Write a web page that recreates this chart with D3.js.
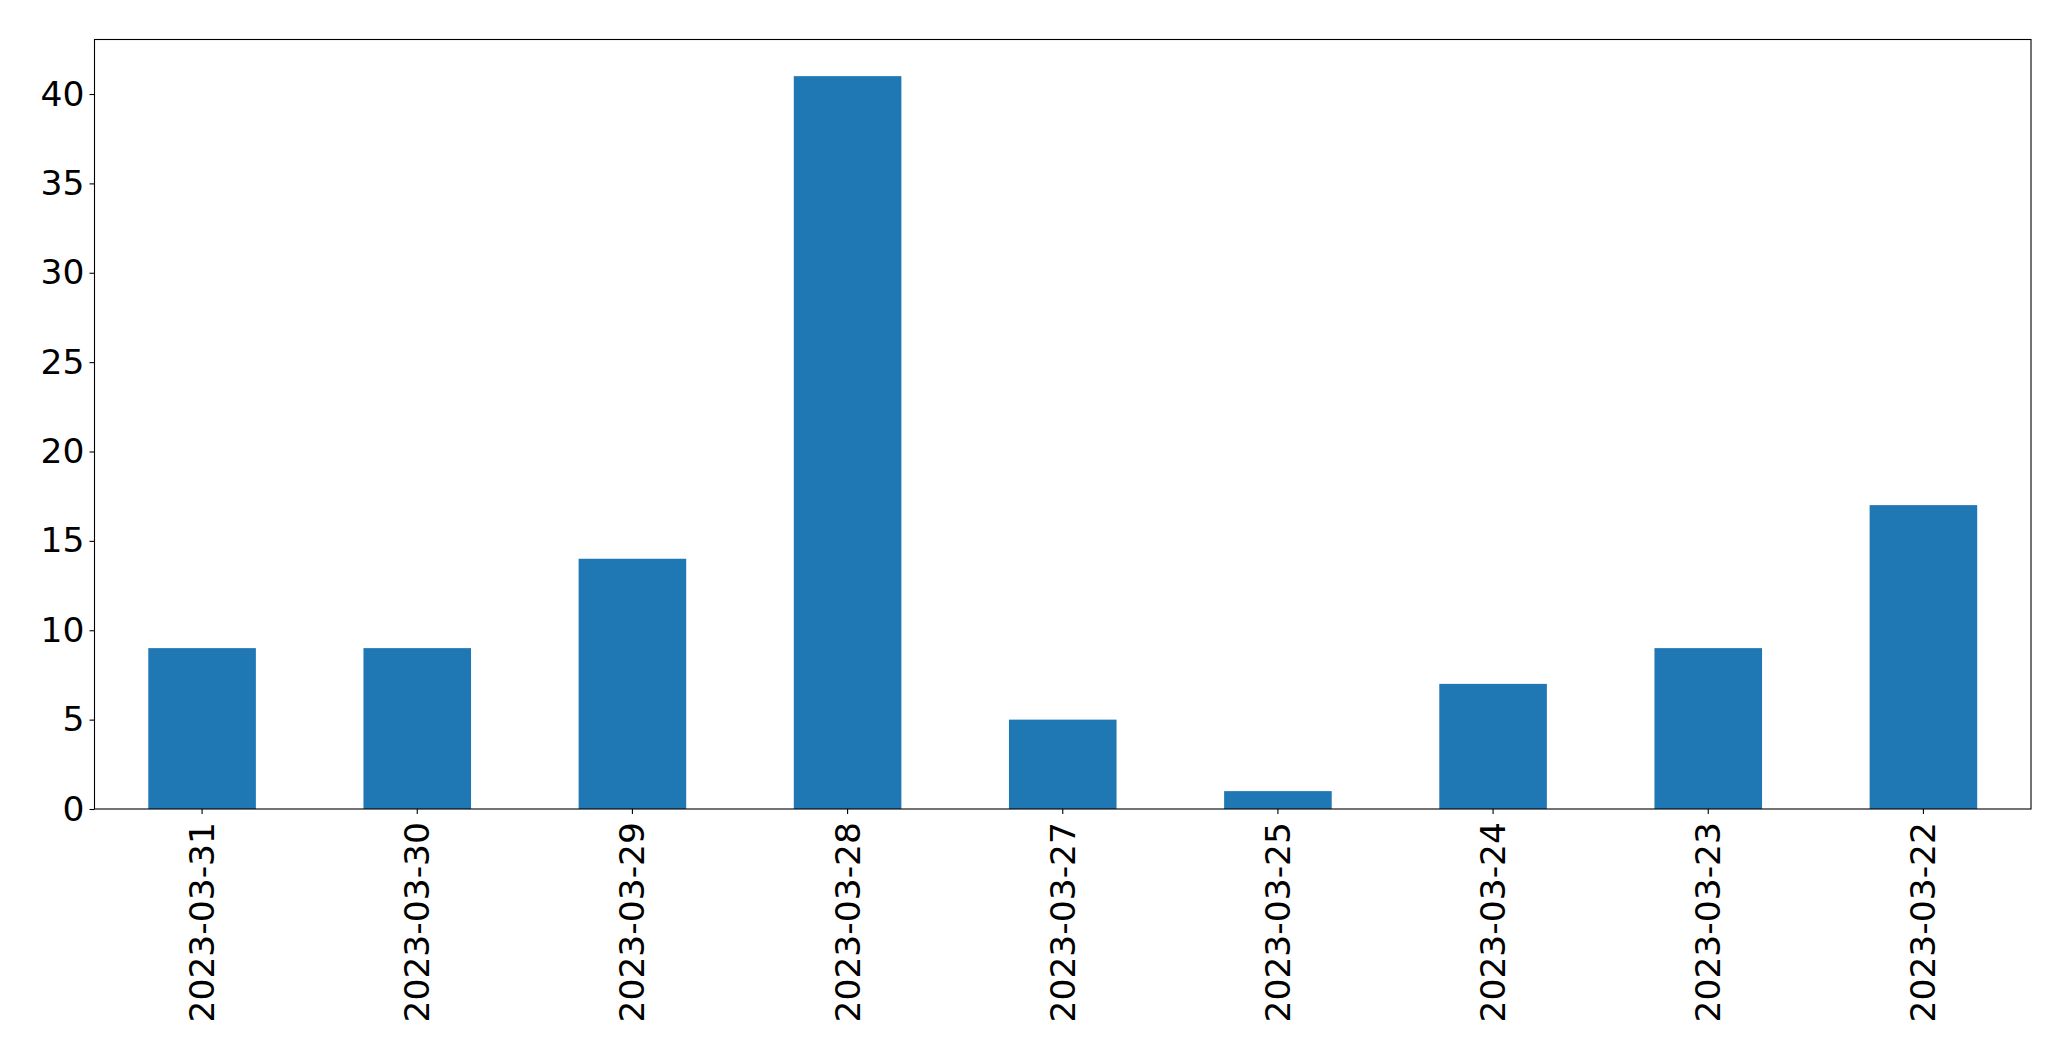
<!DOCTYPE html>
<html>
<head>
<meta charset="utf-8">
<script src="https://cdn.jsdelivr.net/npm/d3@7"></script>
<style>
  body { margin: 0; background: #fff; }
  text { font-family: "DejaVu Sans", sans-serif; }
</style>
</head>
<body>
<div id="chart"></div>
<script>
// data
var dates = ["2023-03-31", "2023-03-30", "2023-03-29", "2023-03-28", "2023-03-27",
             "2023-03-25", "2023-03-24", "2023-03-23", "2023-03-22"];
var counts = [9, 9, 14, 41, 5, 1, 7, 9, 17];
var yTicks = [0, 5, 10, 15, 20, 25, 30, 35, 40];

var chart_width = 2071;
var chart_height = 1061;
var margin = {left: 94.5, right: 40, top: 39.5, bottom: 252};

var svg = d3.select("#chart").append("svg")
  .attr("width", chart_width)
  .attr("height", chart_height);

var x = d3.scaleBand()
  .domain(dates)
  .range([margin.left, chart_width - margin.right])
  .paddingInner(0.5)
  .paddingOuter(0.25);

var y = d3.scaleLinear()
  .domain([0, d3.max(counts) * 1.05])
  .range([chart_height - margin.bottom, margin.top]);

// bars
svg.selectAll("rect.bar").data(counts).enter().append("rect")
  .attr("class", "bar")
  .attr("x", function(d, i) { return x(dates[i]); })
  .attr("y", function(d) { return y(d); })
  .attr("width", x.bandwidth())
  .attr("height", function(d) { return y(0) - y(d); })
  .attr("fill", "#1f77b4");

// y axis
var yAxis = svg.append("g")
  .attr("transform", "translate(" + margin.left + ",0)")
  .call(d3.axisLeft(y).tickValues(yTicks).tickSize(5).tickPadding(5).tickFormat(d3.format("d")));
yAxis.select(".domain").remove();
yAxis.selectAll("line").attr("stroke", "#000").attr("stroke-width", 1.1);
yAxis.selectAll("text").attr("font-size", 34.5).attr("fill", "#000")
  .attr("font-family", "DejaVu Sans");

// x axis
var xAxis = svg.append("g")
  .attr("transform", "translate(0," + (chart_height - margin.bottom) + ")")
  .call(d3.axisBottom(x).tickSize(5).tickPadding(5));
xAxis.select(".domain").remove();
xAxis.selectAll("line").attr("stroke", "#000").attr("stroke-width", 1.1);
xAxis.selectAll("text")
  .attr("font-size", 34.5)
  .attr("fill", "#000")
  .attr("font-family", "DejaVu Sans")
  .attr("text-anchor", "end")
  .attr("dy", null)
  .attr("dominant-baseline", "central")
  .attr("y", 0)
  .attr("transform", "translate(0,13) rotate(-90)");

// frame
svg.append("rect")
  .attr("x", margin.left)
  .attr("y", margin.top)
  .attr("width", chart_width - margin.right - margin.left)
  .attr("height", chart_height - margin.bottom - margin.top)
  .attr("fill", "none")
  .attr("stroke", "#000")
  .attr("stroke-width", 1.1);
</script>
</body>
</html>
